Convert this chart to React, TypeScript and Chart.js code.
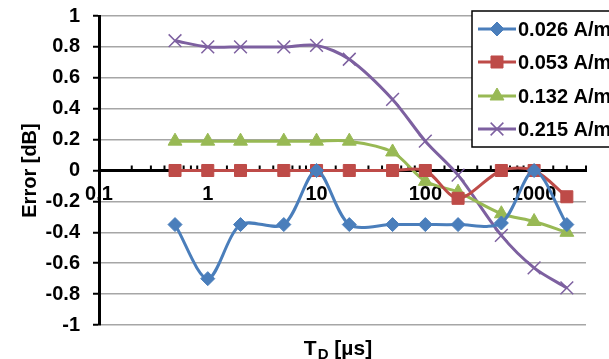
import React, { useEffect, useRef } from 'react';
import { Chart, registerables } from 'chart.js';
import { drawPoint } from 'chart.js/helpers';

Chart.register(...registerables);

// ---- data ----
const xValues = [0.5, 1, 2, 5, 10, 20, 50, 100, 200, 500, 1000, 2000];
const seriesLabels = ['0.026 A/m', '0.053 A/m', '0.132 A/m', '0.215 A/m'];
const series026 = [-0.35, -0.7, -0.35, -0.35, 0, -0.35, -0.35, -0.35, -0.35, -0.34, 0, -0.35];
const series053 = [0, 0, 0, 0, 0, 0, 0, 0, -0.18, 0, 0, -0.17];
const series132 = [0.19, 0.19, 0.19, 0.19, 0.19, 0.19, 0.12, -0.07, -0.14, -0.28, -0.33, -0.4];
const series215 = [0.84, 0.8, 0.8, 0.8, 0.81, 0.72, 0.46, 0.19, -0.03, -0.42, -0.63, -0.76];
const xMin = 0.1;
const xMax = 3000;
const yMin = -1;
const yMax = 1;
const yStep = 0.2;
const xTitleMain = 'T';
const xTitleSub = 'D';
const xTitleRest = ' [µs]';
const yTitle = 'Error [dB]';

const FONT = '"Liberation Sans", Arial, sans-serif';

const seriesStyles = [
  { color: '#4a7ebb', pointStyle: 'rectRot', radius: 7, pbw: 1 },
  { color: '#be4b48', pointStyle: 'rect', radius: 8.5, pbw: 1 },
  { color: '#98b954', pointStyle: 'triangle', radius: 8, pbw: 1 },
  { color: '#7d60a0', pointStyle: 'crossRot', radius: 9, pbw: 1.5 },
];
const seriesValues = [series026, series053, series132, series215];

const overlayPlugin = {
  id: 'overlay',
  beforeDatasetsDraw(chart: any) {
    const ctx = chart.ctx;
    const xs = chart.scales.x;
    const ys = chart.scales.y;
    const y0 = ys.getPixelForValue(0);
    ctx.save();
    ctx.strokeStyle = '#000';
    ctx.lineWidth = 2;
    for (const t of xs.ticks) {
      const px = xs.getPixelForValue(t.value);
      ctx.beginPath();
      ctx.moveTo(px, y0 - 5);
      ctx.lineTo(px, y0);
      ctx.stroke();
    }
    ctx.restore();
  },
  afterDraw(chart: any) {
    const ctx = chart.ctx;
    const area = chart.chartArea;
    ctx.save();
    // y title
    ctx.fillStyle = '#000';
    ctx.font = `bold 20px ${FONT}`;
    ctx.textAlign = 'center';
    ctx.textBaseline = 'middle';
    ctx.translate(30, (area.top + area.bottom) / 2);
    ctx.rotate(-Math.PI / 2);
    ctx.fillText(yTitle, 0, 0);
    ctx.restore();

    // x title with subscript
    ctx.save();
    ctx.fillStyle = '#000';
    ctx.textBaseline = 'alphabetic';
    ctx.textAlign = 'left';
    const base = 355;
    ctx.font = `bold 21px ${FONT}`;
    const wT = ctx.measureText(xTitleMain).width;
    const wR = ctx.measureText(xTitleRest).width;
    ctx.font = `bold 15px ${FONT}`;
    const wD = ctx.measureText(xTitleSub).width;
    let x = 338 - (wT + wD + wR + 1) / 2;
    ctx.font = `bold 21px ${FONT}`;
    ctx.fillText(xTitleMain, x, base);
    x += wT + 1;
    ctx.font = `bold 15px ${FONT}`;
    ctx.fillText(xTitleSub, x, base + 4);
    x += wD;
    ctx.font = `bold 21px ${FONT}`;
    ctx.fillText(xTitleRest, x, base);
    ctx.restore();

    // legend
    ctx.save();
    const lx = 472;
    const ly = 11;
    ctx.fillStyle = '#fff';
    ctx.fillRect(lx, ly, 200, 136);
    ctx.strokeStyle = '#000';
    ctx.lineWidth = 1.5;
    ctx.strokeRect(lx, ly, 200, 136);
    const rows = [29, 62, 96, 129];
    chart.data.datasets.forEach((ds: any, i: number) => {
      const ry = rows[i];
      const st = seriesStyles[i];
      ctx.strokeStyle = st.color;
      ctx.lineWidth = 3;
      ctx.beginPath();
      ctx.moveTo(478, ry);
      ctx.lineTo(516, ry);
      ctx.stroke();
      ctx.fillStyle = st.color;
      ctx.strokeStyle = st.color;
      ctx.lineWidth = st.pbw;
      drawPoint(ctx, { pointStyle: st.pointStyle, radius: st.radius, rotation: 0, borderWidth: st.pbw } as any, 497, ry);
      ctx.fillStyle = '#000';
      ctx.font = `bold 20px ${FONT}`;
      ctx.textAlign = 'left';
      ctx.textBaseline = 'middle';
      ctx.fillText(ds.label, 518, ry + 1);
    });
    ctx.restore();
  },
};

function fmtY(v: number) {
  const r = Math.round(v * 10) / 10;
  if (Math.abs(r) < 1e-9) return '0';
  return String(r);
}

export default function App() {
  const ref = useRef<HTMLCanvasElement | null>(null);
  useEffect(() => {
    if (!ref.current) return;
    const datasets = seriesValues.map((vals, i) => ({
      label: seriesLabels[i],
      data: xValues.map((x, j) => ({ x, y: vals[j] })),
      borderColor: seriesStyles[i].color,
      backgroundColor: seriesStyles[i].color,
      borderWidth: 3,
      pointStyle: seriesStyles[i].pointStyle,
      pointRadius: seriesStyles[i].radius,
      pointBorderWidth: seriesStyles[i].pbw,
      pointBackgroundColor: seriesStyles[i].color,
      pointBorderColor: seriesStyles[i].color,
      tension: 0.3,
      fill: false,
    }));
    const chart = new Chart(ref.current, {
      type: 'line',
      data: { datasets } as any,
      options: {
        animation: false,
        responsive: true,
        maintainAspectRatio: false,
        layout: { padding: { left: 0, right: 23, top: 16, bottom: 34 } },
        plugins: { legend: { display: false }, tooltip: { enabled: false } },
        scales: {
          x: {
            type: 'logarithmic',
            min: xMin,
            max: xMax,
            position: { y: 0 } as any,
            border: { display: true, color: '#000', width: 3 },
            grid: { display: true, drawOnChartArea: false, drawTicks: false },
            ticks: {
              autoSkip: false,
              maxRotation: 0,
              minRotation: 0,
              padding: 12,
              color: '#000',
              font: { family: FONT, weight: 'bold', size: 20 },
              callback: (v: any) => {
                const val = Number(v);
                const l = Math.log10(val);
                if (Math.abs(l - Math.round(l)) < 1e-6) return String(Math.pow(10, Math.round(l)) >= 1 ? Math.round(Math.pow(10, Math.round(l))) : 0.1);
                return '';
              },
            },
            afterFit: (s: any) => {
              s.height = 0;
              s.paddingTop = 0;
              s.paddingBottom = 0;
            },
          } as any,
          y: {
            min: yMin,
            max: yMax,
            border: { display: true, color: '#000', width: 3 },
            grid: { color: '#a6a6a6', lineWidth: 1.5, tickLength: 6, tickColor: '#000', tickWidth: 2 },
            ticks: {
              stepSize: yStep,
              padding: 13,
              color: '#000',
              font: { family: FONT, weight: 'bold', size: 20 },
              callback: (v: any) => fmtY(Number(v)),
            },
            afterFit: (s: any) => {
              s.width = 99;
              s.paddingTop = 0;
              s.paddingBottom = 0;
            },
          } as any,
        },
      },
      plugins: [overlayPlugin],
    });
    return () => chart.destroy();
  }, []);
  return (
    <div style={{ position: 'fixed', left: 0, top: 0, width: 609, height: 359, background: '#fff' }}>
      <canvas ref={ref} />
    </div>
  );
}
